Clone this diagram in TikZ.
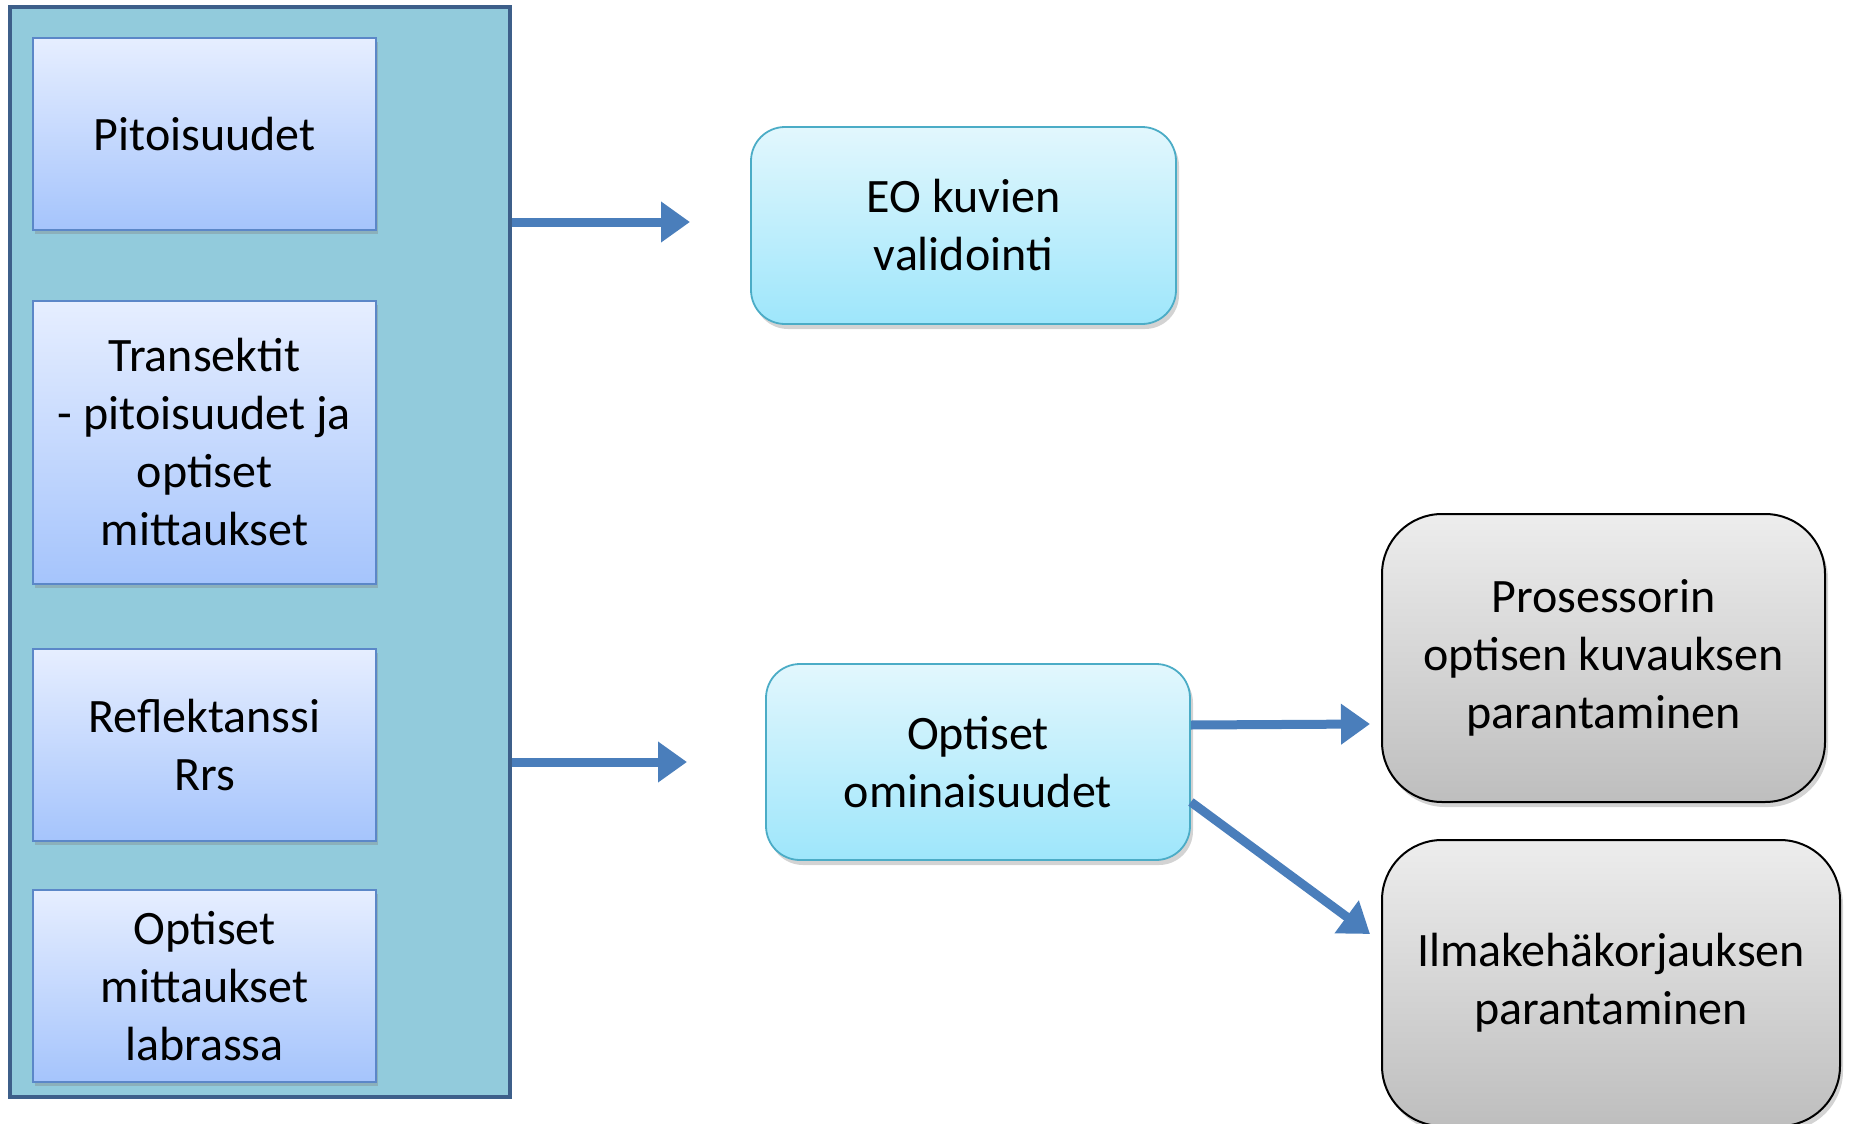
\documentclass[tikz,border=0pt]{standalone}
\usepackage{fontspec}
\setmainfont{Carlito}
\usetikzlibrary{arrows.meta,shadows}
\definecolor{panelfill}{HTML}{92CBDC}
\definecolor{paneldraw}{HTML}{3D5F8A}
\definecolor{bluetop}{HTML}{E6EEFF}
\definecolor{bluebot}{HTML}{A5C4FC}
\definecolor{bluedraw}{HTML}{5B87C8}
\definecolor{cyantop}{HTML}{E2F7FD}
\definecolor{cyanbot}{HTML}{9EE6FB}
\definecolor{cyandraw}{HTML}{4BACC6}
\definecolor{graytop}{HTML}{EDEDED}
\definecolor{graybot}{HTML}{BEBEBE}
\definecolor{arrowc}{HTML}{4A7EBB}
\tikzset{
  txt/.style={font=\fontsize{24}{29}\selectfont, align=center, text=black},
  panelbox/.style={draw=paneldraw, line width=2pt, fill=panelfill, inner sep=0pt},
  inbox/.style={txt, draw=bluedraw, line width=1pt, top color=bluetop, bottom color=bluebot,
    minimum width=171.5pt, minimum height=96pt, inner sep=2pt,
    drop shadow={shadow xshift=1.2pt, shadow yshift=-1.8pt, opacity=0.35}},
  cyanbox/.style={txt, draw=cyandraw, line width=0.9pt, top color=cyantop, bottom color=cyanbot,
    rounded corners=17pt, inner sep=2pt,
    drop shadow={shadow xshift=1.5pt, shadow yshift=-2.5pt, opacity=0.35}},
  graybox/.style={txt, draw=black, line width=1pt, top color=graytop, bottom color=graybot,
    rounded corners=30pt, inner sep=2pt,
    drop shadow={shadow xshift=1.5pt, shadow yshift=-2.5pt, opacity=0.35}},
  arr/.style={draw=arrowc, line width=4.5pt, -{Triangle[length=14.5pt,width=19.5pt]}, arrowc},
}
\begin{document}
\begin{tikzpicture}[x=0.5pt,y=-0.5pt]
\useasboundingbox (0,0) rectangle (1849,1124);
\node[panelbox, minimum width=250pt, minimum height=545pt] (panel) at (260,552) {};
\node[inbox] (p1) at (204.5,134) {Pitoisuudet};
\node[inbox, minimum height=141.5pt] (p2) at (204.5,442.5) {Transektit\\- pitoisuudet ja\\optiset\\mittaukset};
\node[inbox] (p3) at (204.5,745) {Reflektanssi\\Rrs};
\node[inbox] (p4) at (204.5,986) {Optiset\\mittaukset\\labrassa};
\node[cyanbox, minimum width=212.5pt, minimum height=98.5pt] (eo) at (963.5,225.5) {EO kuvien\\validointi};
\node[cyanbox, minimum width=212pt, minimum height=98pt] (opt) at (978,762) {Optiset\\ominaisuudet};
\node[graybox, minimum width=221.5pt, minimum height=144pt] (proc) at (1603.5,658) {Prosessorin\\optisen kuvauksen\\parantaminen};
\node[graybox, minimum width=229pt, minimum height=143pt] (ilma) at (1611,983) {Ilmakehäkorjauksen\\parantaminen};
\coordinate (t1) at (690,222);
\coordinate (t2) at (687,762);
\coordinate (s3) at (1190,725);
\coordinate (t3) at (1370,724);
\coordinate (s4) at (1190,802);
\coordinate (t4) at (1370,934);
\draw[arr] (panel.east |- t1) -- (t1);
\draw[arr] (panel.east |- t2) -- (t2);
\draw[arr] (opt.east |- s3) -- (t3);
\draw[arr] (opt.east |- s4) -- (t4);
\end{tikzpicture}
\end{document}
